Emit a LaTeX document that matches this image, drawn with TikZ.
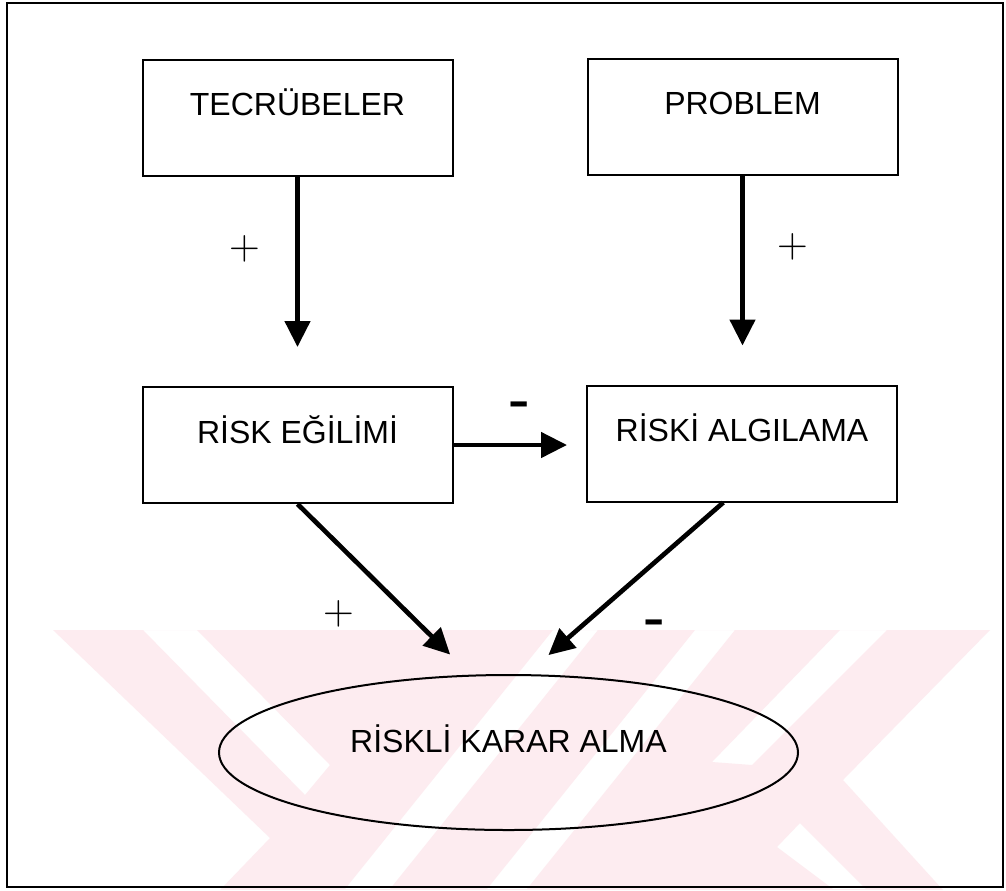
\documentclass[tikz,border=0pt]{standalone}
\usepackage{fontspec}
\newfontfamily\labelfont{Liberation Sans}
\newfontfamily\plusfont{Latin Modern Roman}
\usetikzlibrary{arrows.meta,shapes.geometric,calc}
\definecolor{markpink}{RGB}{253,236,240}

\begin{document}
\begin{tikzpicture}[x=0.75pt,y=-0.75pt,
  box/.style={draw, line width=1.5pt, rectangle, inner sep=0pt,
    minimum width=232.5pt, text height=42pt, text depth=45pt,
    font=\labelfont\fontsize{24}{28}\selectfont},
  goal/.style={draw, line width=1.5pt, ellipse, inner sep=0pt,
    minimum width=434.25pt, minimum height=116.25pt,
    text height=17pt, text depth=17pt,
    font=\labelfont\fontsize{24}{28}\selectfont},
  conn/.style={line width=3.5pt, -{Triangle[width=18.75pt,length=19.5pt]}},
  plussign/.style={inner sep=0pt, font=\plusfont\fontsize{32}{38}\selectfont},
  minussign/.style={inner sep=0pt, anchor=base, font=\labelfont\bfseries\fontsize{32}{36}\selectfont}
]
% page
\fill[white] (0,0) rectangle (1006,890);
\useasboundingbox (0,0) rectangle (1006,890);

% background emblem: one pink shape with stripe-shaped holes
\fill[markpink, even odd rule]
  (53,630) -- (990,630) -- (843,780) -- (943,890)
    -- (220,890) -- (270,838) -- cycle
  (143,630) -- (197,630) -- (330,765) -- (305,795) -- cycle
  (553,630) -- (598,630) -- (390,889) -- (345,889) -- cycle
  (695,630) -- (735,630) -- (527,889) -- (487,889) -- cycle
  (840,630) -- (887,630) -- (752,765) -- (712,762) -- cycle
  (800,823) -- (866,889) -- (833,889) -- (777,847) -- cycle;

% outer frame
\draw[line width=1.6pt] (7,3) rectangle (1003,887);

% boxes
\node[box] (tec)  at (297.5,117.5) {TECRÜBELER};
\node[box] (prob) at (742.5,116.5) {PROBLEM};
\node[box] (egil) at (297.5,445)   {RİSK EĞİLİMİ};
\node[box] (alg)  at (742,443.5)   {RİSKİ ALGILAMA};
\node[goal] (karar) at (508.5,752.5) {RİSKLİ KARAR ALMA};

% connectors
\draw[conn, shorten >=29.25pt] (tec.south) -- (egil.north);
\draw[conn, shorten >=29.25pt] (prob.south) -- (prob.south |- alg.north);
\draw[conn, shorten >=14.25pt] (egil.east) -- (egil.east -| alg.west);
\draw[conn, shorten >=21.5pt] (egil.south) -- (karar.116);
\draw[conn, shorten >=21.75pt] ($(alg.south west)!0.44!(alg.south east)$) -- (karar.77.7);

% signs
\node[plussign] (p1) at (245,249) {+};
\node[plussign] (p2) at (793,247) {+};
\node[plussign] (p3) at (339,614) {+};
\node[minussign] (m1) at (519,415) {\scalebox{1.5}[1]{-}};
\node[minussign] (m2) at (654,633) {\scalebox{1.5}[1]{-}};
\end{tikzpicture}
\end{document}
